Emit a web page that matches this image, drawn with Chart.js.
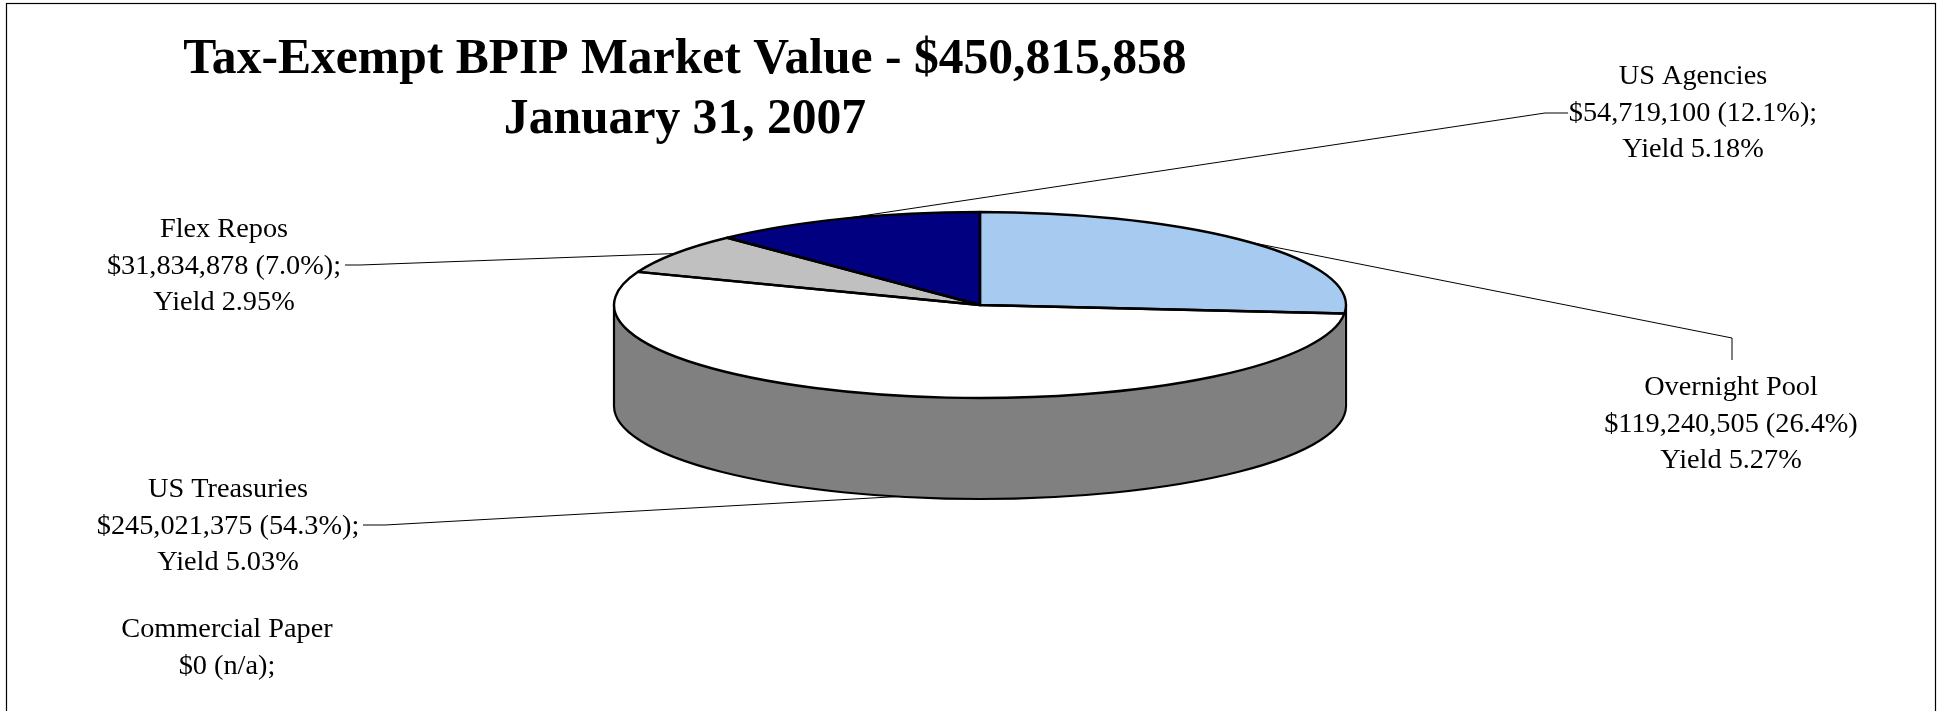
<!DOCTYPE html>
<html>
<head>
<meta charset="utf-8">
<script src="https://cdn.jsdelivr.net/npm/chart.js@4.4.1/dist/chart.umd.min.js"></script>
<style>
  body { margin: 0; background: #fff; }
  #wrap { width: 1940px; height: 711px; position: relative; }
</style>
</head>
<body>
<div id="wrap"><canvas id="bpip"></canvas></div>
<script>
var ctx = document.getElementById('bpip').getContext('2d');
/* Tax-Exempt BPIP, January 31, 2007 */
const categories = ['Overnight Pool', 'US Treasuries', 'Commercial Paper', 'Flex Repos', 'US Agencies'];
const marketValues = [119240505, 245021375, 0, 31834878, 54719100];
const yields = [5.27, 5.03, null, 2.95, 5.18];
const sliceColors = ['#a6caf0', '#ffffff', '#ff8080', '#c0c0c0', '#000080'];
const titleLines = ['Tax-Exempt BPIP Market Value - $450,815,858', 'January 31, 2007'];

const total = marketValues.reduce((a, b) => a + b, 0);

// where the labels sit and how their leader lines bend
const labelLayout = [
    {x: 1731, y: 395, sep: '', leader: [[1732, 360], [1732, 338]]},
    {x: 228, y: 497, sep: ';', leader: [[363, 525], [385, 525]]},
    {x: 227, y: 637, sep: ';', leader: null},
    {x: 224, y: 237, sep: ';', leader: [[345, 265], [360, 265]]},
    {x: 1693, y: 84, sep: ';', leader: [[1568, 113], [1545, 113]]}
];
const depth = 101;

function darker(hex, f) {
    const n = parseInt(hex.slice(1), 16);
    const r = Math.round(((n >> 16) & 255) * f), g = Math.round(((n >> 8) & 255) * f), b = Math.round((n & 255) * f);
    return 'rgb(' + r + ',' + g + ',' + b + ')';
}

function geom(chart) {
    const a = chart.chartArea;
    return {cx: (a.left + a.right) / 2, cy: (a.top + a.bottom) / 2, rx: a.width / 2, ry: a.height / 2};
}

const tilt3d = {
    id: 'tilt3d',
    beforeDatasetsDraw(chart) {
        const c = chart.ctx, g = geom(chart);
        const arcs = chart.getDatasetMeta(0).data;
        // side walls (front half only)
        c.save();
        c.lineWidth = 2.2;
        c.strokeStyle = '#000';
        arcs.forEach(function (arc, i) {
            const s = Math.max(arc.startAngle, 0), e = Math.min(arc.endAngle, Math.PI);
            if (e - s <= 1e-6) return;
            c.beginPath();
            c.ellipse(g.cx, g.cy, g.rx, g.ry, 0, s, e);
            c.lineTo(g.cx + g.rx * Math.cos(e), g.cy + depth + g.ry * Math.sin(e));
            c.ellipse(g.cx, g.cy + depth, g.rx, g.ry, 0, e, s, true);
            c.closePath();
            c.fillStyle = darker(sliceColors[i], 0.5);
            c.fill();
        });
        c.beginPath();
        c.moveTo(g.cx + g.rx, g.cy);
        c.lineTo(g.cx + g.rx, g.cy + depth);
        c.ellipse(g.cx, g.cy + depth, g.rx, g.ry, 0, 0, Math.PI);
        c.lineTo(g.cx - g.rx, g.cy);
        c.stroke();
        c.restore();

        // squash the library's pie into the top face
        const a0 = arcs[0];
        c.save();
        c.translate(g.cx, g.cy);
        c.scale(g.rx / a0.outerRadius, g.ry / a0.outerRadius);
        c.translate(-a0.x, -a0.y);
    },
    afterDatasetsDraw(chart) {
        const c = chart.ctx, g = geom(chart);
        c.restore();
        c.save();
        c.lineWidth = 2.4;
        c.lineJoin = 'round';
        c.strokeStyle = '#000';
        chart.getDatasetMeta(0).data.forEach(function (arc) {
            if (arc.endAngle - arc.startAngle <= 1e-6) return;
            c.beginPath();
            c.moveTo(g.cx, g.cy);
            c.ellipse(g.cx, g.cy, g.rx, g.ry, 0, arc.startAngle, arc.endAngle);
            c.closePath();
            c.stroke();
        });
        c.restore();
    },
    afterDraw(chart) {
        const c = chart.ctx, g = geom(chart);
        const arcs = chart.getDatasetMeta(0).data;
        c.save();
        // frame
        c.strokeStyle = '#000';
        c.lineWidth = 1.2;
        c.strokeRect(6.5, 3.5, 1929, 800);

        // title
        c.fillStyle = '#000';
        c.textAlign = 'center';
        c.textBaseline = 'alphabetic';
        c.font = 'bold 49.6px "Liberation Serif"';
        c.fillText(titleLines[0], 685, 73);
        c.fillText(titleLines[1], 685, 133);

        // labels + leaders
        c.font = '28.3px "Liberation Serif"';
        c.lineWidth = 1;
        categories.forEach(function (name, i) {
            const L = labelLayout[i];
            const v = marketValues[i];
            const pct = v === 0 ? 'n/a' : (Math.floor(v / total * 1000) / 10).toFixed(1) + '%';
            const lines = [name, '$' + v.toLocaleString('en-US') + ' (' + pct + ')' + L.sep];
            if (yields[i] !== null) lines.push('Yield ' + yields[i].toFixed(2) + '%');
            lines.forEach(function (t, k) { c.fillText(t, L.x, L.y + k * 36.5); });

            if (!L.leader) return;
            const arc = arcs[i];
            const m = (arc.startAngle + arc.endAngle) / 2;
            const front = Math.sin(m) > 0 ? depth : 0;
            const px = g.cx + g.rx * Math.cos(m), py = g.cy + g.ry * Math.sin(m) + front;
            c.beginPath();
            c.moveTo(L.leader[0][0], L.leader[0][1]);
            for (let k = 1; k < L.leader.length; k++) c.lineTo(L.leader[k][0], L.leader[k][1]);
            c.lineTo(px, py);
            c.stroke();
        });
        c.restore();
    }
};

var bpipChart = new Chart(ctx, {
    type: 'pie',
    data: {
        labels: categories,
        datasets: [{
            data: marketValues,
            backgroundColor: sliceColors,
            borderWidth: 0,
            hoverOffset: 0,
            clip: false
        }]
    },
    options: {
        responsive: true,
        maintainAspectRatio: false,
        animation: false,
        events: [],
        layout: {
            padding: {left: 614, right: 594, top: 212, bottom: 313}
        },
        plugins: {
            legend: { display: false },
            tooltip: { enabled: false },
            title: { display: false }
        }
    },
    plugins: [tilt3d]
});
</script>
</body>
</html>
